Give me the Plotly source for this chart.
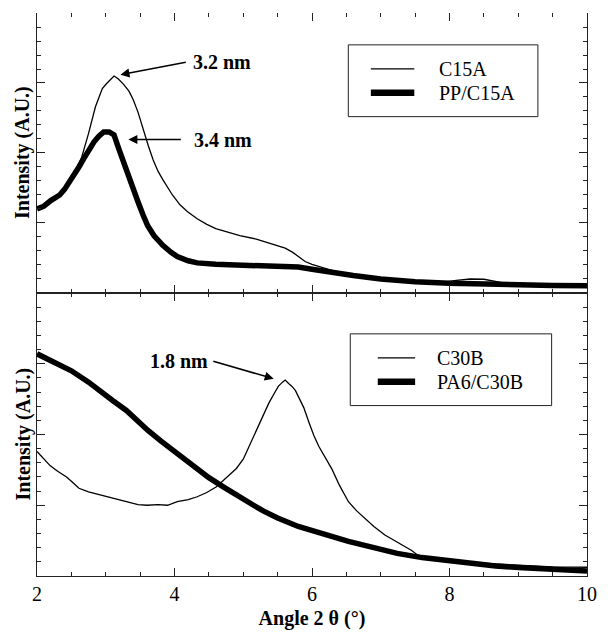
import plotly.graph_objects as go

# ---------------- data ----------------
series_names_top = ["C15A", "PP/C15A"]
series_names_bot = ["C30B", "PA6/C30B"]

angle_c15a = [2.0, 2.1, 2.2, 2.33, 2.45, 2.55, 2.65, 2.75, 2.85, 2.95, 3.02, 3.08, 3.12,
              3.18, 3.26, 3.34, 3.4, 3.47, 3.54, 3.62, 3.69, 3.76, 3.83, 3.9, 3.97, 4.08,
              4.19, 4.33, 4.47, 4.6, 4.76, 4.95, 5.19, 5.4, 5.61, 5.72, 5.81, 5.9, 6.0,
              6.15, 6.3, 6.6, 7.0, 7.5, 7.9, 8.1, 8.3, 8.5, 8.65, 8.8, 9.0, 9.5, 10.0]
int_c15a = [6.0, 6.2, 6.5, 7.0, 7.7, 8.6, 9.7, 11.4, 13.3, 14.6, 15.0, 15.3, 15.5,
            15.3, 14.9, 14.4, 13.8, 12.9, 11.7, 10.5, 9.5, 8.7, 8.1, 7.5, 7.0, 6.3,
            5.8, 5.3, 4.9, 4.6, 4.35, 4.1, 3.85, 3.55, 3.2, 2.9, 2.55, 2.25, 2.05,
            1.8, 1.6, 1.3, 1.0, 0.8, 0.75, 0.9, 1.0, 0.98, 0.85, 0.7, 0.6, 0.55, 0.53]

angle_ppc15a = [2.0, 2.1, 2.2, 2.33, 2.4, 2.47, 2.55, 2.61, 2.68, 2.76, 2.83, 2.9, 2.97,
                3.05, 3.12, 3.19, 3.26, 3.33, 3.4, 3.47, 3.54, 3.61, 3.7, 3.83, 3.95,
                4.04, 4.2, 4.33, 4.6, 5.0, 5.5, 5.8, 6.0, 6.3, 6.6, 7.0, 7.5, 8.0, 8.5,
                9.0, 9.5, 10.0]
int_ppc15a = [6.0, 6.2, 6.6, 7.0, 7.4, 7.9, 8.5, 9.0, 9.6, 10.3, 10.8, 11.2, 11.5,
              11.5, 11.3, 10.3, 9.3, 8.3, 7.4, 6.5, 5.6, 4.8, 4.1, 3.4, 2.9,
              2.6, 2.3, 2.15, 2.05, 2.0, 1.95, 1.85, 1.7, 1.45, 1.25, 1.0, 0.8, 0.7, 0.62,
              0.57, 0.54, 0.52]

angle_c30b = [2.0, 2.1, 2.19, 2.3, 2.43, 2.52, 2.61, 2.75, 2.9, 3.0, 3.14, 3.3, 3.47,
              3.6, 3.76, 3.9, 4.04, 4.2, 4.33, 4.47, 4.61, 4.7, 4.8, 4.9, 5.0, 5.1,
              5.19, 5.28, 5.37, 5.45, 5.51, 5.57, 5.61, 5.66, 5.71, 5.76, 5.8, 5.88,
              5.96, 6.03, 6.1, 6.2, 6.29, 6.4, 6.53, 6.65, 6.77, 6.9, 7.06, 7.2,
              7.34, 7.45, 7.53, 7.7, 8.0, 8.3, 8.67, 9.0, 9.5, 10.0]
int_c30b = [8.8, 8.3, 7.8, 7.4, 7.0, 6.6, 6.2, 5.95, 5.75, 5.6, 5.45, 5.25, 5.05,
            5.0, 5.05, 5.0, 5.25, 5.4, 5.6, 5.9, 6.3, 6.7, 7.1, 7.6, 8.25, 9.3,
            10.35, 11.3, 12.2, 12.9, 13.4, 13.7, 13.85, 13.6, 13.4, 13.1, 12.7, 11.9,
            10.8, 9.9, 9.15, 8.3, 7.55, 6.4, 5.25, 4.6, 4.05, 3.5, 2.9, 2.5,
            2.1, 1.8, 1.5, 1.3, 1.1, 0.95, 0.85, 0.75, 0.65, 0.62]

angle_pa6 = [2.0, 2.25, 2.5, 2.75, 2.9, 3.1, 3.3, 3.45, 3.61, 3.8, 4.0, 4.15, 4.33,
             4.5, 4.71, 4.85, 5.0, 5.15, 5.29, 5.5, 5.8, 6.1, 6.53, 6.9, 7.24, 7.6,
             8.0, 8.3, 8.67, 9.0, 9.5, 10.0]
int_pa6 = [15.7, 15.1, 14.5, 13.7, 13.1, 12.4, 11.7, 11.0, 10.3, 9.55, 8.8, 8.2, 7.55,
           6.95, 6.3, 5.85, 5.45, 5.0, 4.6, 4.1, 3.5, 3.05, 2.45, 2.0, 1.6, 1.3,
           1.05, 0.9, 0.7, 0.6, 0.45, 0.35]

x_tick_vals = [2, 4, 6, 8, 10]
x_tick_text = ["2", "4", "6", "8", "10"]
x_title = "Angle 2 θ (°)"
y_title = "Intensity (A.U.)"
peak_labels = ["3.2 nm", "3.4 nm", "1.8 nm"]

# ---------------- styling ----------------
FONT = "Liberation Serif, Times New Roman, serif"
LINE_C = "#222222"
THIN = 1.3
THICK = 5.5
SPLIT = 0.5027

fig = go.Figure()
fig.add_trace(go.Scatter(x=angle_c15a, y=int_c15a, name=series_names_top[0], mode="lines",
                         line=dict(color="black", width=THIN), xaxis="x2", yaxis="y2",
                         showlegend=False))
fig.add_trace(go.Scatter(x=angle_ppc15a, y=int_ppc15a, name=series_names_top[1], mode="lines",
                         line=dict(color="black", width=THICK), xaxis="x2", yaxis="y2",
                         showlegend=False))
fig.add_trace(go.Scatter(x=angle_c30b, y=int_c30b, name=series_names_bot[0], mode="lines",
                         line=dict(color="black", width=THIN), xaxis="x", yaxis="y",
                         showlegend=False))
fig.add_trace(go.Scatter(x=angle_pa6, y=int_pa6, name=series_names_bot[1], mode="lines",
                         line=dict(color="black", width=THICK), xaxis="x", yaxis="y",
                         showlegend=False))

xcommon = dict(range=[2, 10], tickvals=x_tick_vals, ticktext=x_tick_text, ticks="inside",
               ticklen=8, tickwidth=1, tickcolor=LINE_C, showgrid=False, zeroline=False,
               linecolor=LINE_C, linewidth=1,
               minor=dict(dtick=0.5, tick0=2, ticks="inside", ticklen=4, tickwidth=1,
                          tickcolor=LINE_C, showgrid=False))
ycommon = dict(range=[0, 20], dtick=5, tick0=0, ticks="inside", ticklen=8, tickwidth=1,
               tickcolor=LINE_C, showgrid=False, zeroline=False, showticklabels=False,
               showline=True, mirror="ticks", linecolor=LINE_C, linewidth=1,
               minor=dict(dtick=1, ticks="inside", ticklen=4, tickwidth=1,
                          tickcolor=LINE_C, showgrid=False))

fig.update_layout(
    width=608, height=636,
    margin=dict(l=37, r=11, t=13, b=58),
    paper_bgcolor="white", plot_bgcolor="white",
    font=dict(family=FONT, size=20, color="black"),
    xaxis=dict(xcommon, domain=[0, 1], anchor="y", showline=True, mirror="ticks",
               showticklabels=True, tickfont=dict(family=FONT, size=20),
               title=dict(text="<b>" + x_title + "</b>", font=dict(family=FONT, size=20),
                          standoff=6)),
    yaxis=dict(ycommon, domain=[0, SPLIT], anchor="x"),
    xaxis2=dict(xcommon, domain=[0, 1], anchor="y2", matches="x", showline=True,
                mirror=False, showticklabels=False),
    xaxis3=dict(xcommon, overlaying="x2", side="top", anchor="y2", matches="x",
                showline=False, showticklabels=False),
    yaxis2=dict(ycommon, domain=[SPLIT, 1], anchor="x2"),
    showlegend=False,
)
# invisible trace so the top tick axis is drawn
fig.add_trace(go.Scatter(x=[2, 10], y=[None, None], xaxis="x3", yaxis="y2",
                         showlegend=False, hoverinfo="skip"))

# y-axis titles
for yc in [(SPLIT + 1) / 2, SPLIT / 2]:
    fig.add_annotation(text="<b>" + y_title + "</b>", xref="paper", yref="paper",
                       x=0, y=yc, xshift=-14, textangle=-90, showarrow=False,
                       xanchor="center", yanchor="middle",
                       font=dict(family=FONT, size=20, color="black"))

# peak arrows
arrow_style = dict(showarrow=True, arrowhead=2, arrowsize=1.2, arrowwidth=1.5,
                   arrowcolor="black", text="")
fig.add_annotation(x=3.214, y=15.59, ax=4.186, ay=16.51, xref="x2", yref="y2",
                   axref="x2", ayref="y2", **arrow_style)
fig.add_annotation(x=3.329, y=10.96, ax=4.114, ay=10.96, xref="x2", yref="y2",
                   axref="x2", ayref="y2", **arrow_style)
fig.add_annotation(x=5.443, y=13.94, ax=4.543, ay=15.21, xref="x", yref="y",
                   axref="x", ayref="y", **arrow_style)
lab_font = dict(family=FONT, size=20, color="black")
fig.add_annotation(text="<b>" + peak_labels[0] + "</b>", x=4.243, y=16.51, xref="x2", yref="y2",
                   xanchor="left", yanchor="middle", showarrow=False, font=lab_font)
fig.add_annotation(text="<b>" + peak_labels[1] + "</b>", x=4.257, y=10.96, xref="x2", yref="y2",
                   xanchor="left", yanchor="middle", showarrow=False, font=lab_font)
fig.add_annotation(text="<b>" + peak_labels[2] + "</b>", x=4.514, y=15.21, xref="x", yref="y",
                   xanchor="right", yanchor="middle", showarrow=False, font=lab_font)

# manual legends (box, line samples, labels)
def add_legend(box, sample_x, rows, text_x, names):
    fig.add_shape(type="rect", xref="paper", yref="paper", x0=box[0], x1=box[1],
                  y0=box[2], y1=box[3], line=dict(color=LINE_C, width=1),
                  fillcolor="white", layer="above")
    for (yy, w, nm) in zip(rows, [THIN, 6.5], names):
        fig.add_shape(type="line", xref="paper", yref="paper", x0=sample_x[0],
                      x1=sample_x[1], y0=yy, y1=yy, line=dict(color="black", width=w),
                      layer="above")
        fig.add_annotation(text=nm, xref="paper", yref="paper", x=text_x, y=yy,
                           xanchor="left", yanchor="middle", showarrow=False,
                           font=dict(family=FONT, size=20, color="black"))

add_legend([0.566, 0.9107, 0.8159, 0.9434], [0.607, 0.686], [0.9009, 0.8584], 0.7268,
           series_names_top)
add_legend([0.5696, 0.9357, 0.3027, 0.4301], [0.6196, 0.6875], [0.3876, 0.3451], 0.7232,
           series_names_bot)

fig.write_html("out.html")
